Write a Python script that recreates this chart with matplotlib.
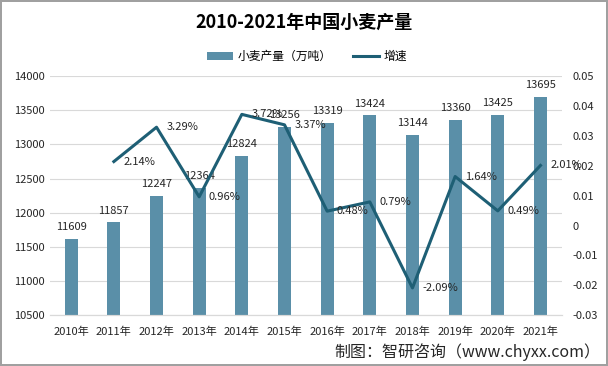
import numpy as np
import matplotlib.pyplot as plt

plt.rcParams['font.family'] = ['Noto Sans CJK SC', 'DejaVu Sans']

years = ['2010年', '2011年', '2012年', '2013年', '2014年', '2015年',
         '2016年', '2017年', '2018年', '2019年', '2020年', '2021年']
output = [11609, 11857, 12247, 12364, 12824, 13256,
          13319, 13424, 13144, 13360, 13425, 13695]
# 2010 has no growth value
growth = [np.nan, 0.0214, 0.0329, 0.0096, 0.0372, 0.0337,
          0.0048, 0.0079, -0.0209, 0.0164, 0.0049, 0.0201]

bar_color = '#5A8FA8'
line_color = '#1E5F75'
text_color = '#262626'

fig = plt.figure(figsize=(6.08, 3.66), dpi=100)
fig.patch.set_edgecolor('#A0A0A0')
fig.patch.set_linewidth(1.5)
ax = fig.add_axes([0.082, 0.139, 0.842, 0.653])
ax2 = ax.twinx()

x = np.arange(len(years))
ax.bar(x, output, width=0.31, color=bar_color, label='小麦产量（万吨）', zorder=2)
ax.set_ylim(10500, 14000)
ax.set_yticks(np.arange(10500, 14001, 500))
ax.set_xlim(-0.5, len(years) - 0.5)
ax.set_xticks(x)
ax.set_xticklabels(years)
ax.grid(axis='y', color='#D9D9D9', linewidth=0.8, zorder=0)
ax.set_axisbelow(True)
for v, xi in zip(output, x):
    ax.annotate(str(v), (xi, v), xytext=(0, 5), textcoords='offset points',
                ha='center', va='bottom', fontsize=8, color=text_color)

ax2.plot(x, growth, color=line_color, linewidth=2.2, label='增速', zorder=3)
ax2.set_ylim(-0.03, 0.05)
ax2.set_yticks([-0.03, -0.02, -0.01, 0, 0.01, 0.02, 0.03, 0.04, 0.05])
ax2.set_yticklabels(['-0.03', '-0.02', '-0.01', '0', '0.01', '0.02', '0.03', '0.04', '0.05'])
for g, xi in zip(growth, x):
    if np.isnan(g):
        continue
    ax2.annotate(f'{g * 100:.2f}%', (xi, g), xytext=(7, 0), textcoords='offset points',
                 ha='left', va='center', fontsize=8, color=text_color)

for a in (ax, ax2):
    for s in ('top', 'left', 'right'):
        a.spines[s].set_visible(False)
    a.spines['bottom'].set_color('#D9D9D9')
    a.tick_params(length=0, labelsize=8, labelcolor=text_color)
ax.tick_params(axis='x', pad=8)
ax2.tick_params(axis='y', pad=8)

fig.text(0.5, 0.94, '2010-2021年中国小麦产量', ha='center', va='center',
         fontsize=13, fontweight='bold')

h1, l1 = ax.get_legend_handles_labels()
h2, l2 = ax2.get_legend_handles_labels()
fig.legend(h1 + h2, l1 + l2, loc='center', bbox_to_anchor=(0.505, 0.845), ncol=2,
           frameon=False, fontsize=8.5, handlelength=2.2, handletextpad=0.4,
           columnspacing=1.8)

fig.text(0.987, 0.038, '制图：智研咨询（www.chyxx.com）', ha='right', va='center',
         fontsize=11.5, color=text_color)

fig.savefig('out.png', dpi=100)
